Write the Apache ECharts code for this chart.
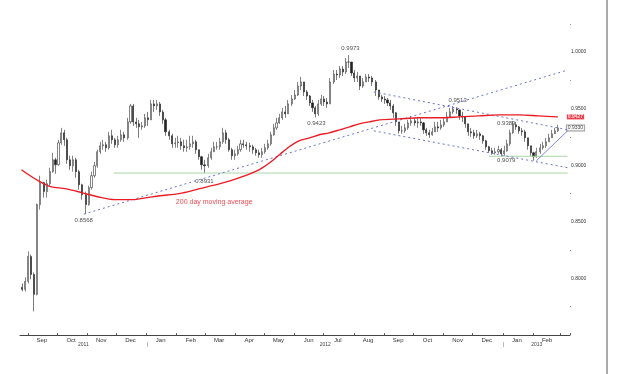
<!DOCTYPE html>
<html><head><meta charset="utf-8">
<script src="https://cdn.jsdelivr.net/npm/echarts/dist/echarts.min.js"></script>
<style>html,body{margin:0;padding:0;background:#fff}#c{width:620px;height:374px}</style>
</head><body><div id="c"></div>
<script>
// ---- axis range & tick labels ----
const axisStart = '2011-08-24', axisEnd = '2013-03-10';
const monthNames = ['Jan','Feb','Mar','Apr','May','Jun','Jul','Aug','Sep','Oct','Nov','Dec'];
const yMin = 0.75, yMax = 1.046, yStep = 0.05;

// ---- USD/CHF candles (sampled), first and last dates ----
const candleStart = '2011-08-26', candleEnd = '2013-02-26';
const firstOpen = 0.7921;
const closes = [
 .7903,.7974,.8194,.8035,.7859,.8652,.8846,.8767,.8837,.8943,
 .9048,.9004,.9198,.9286,.9225,.9048,.8996,.9048,.8943,.8828,
 .8740,.8652,.8802,.8907,.8996,.9119,.9172,.9181,.9154,.9260,
 .9225,.9181,.9225,.9269,.9242,.9383,.9524,.9383,.9366,.9339,
 .9348,.9419,.9401,.9542,.9524,.9542,.9471,.9401,.9295,.9260,
 .9189,.9198,.9207,.9172,.9154,.9163,.9189,.9207,.9137,.9075,
 .9004,.8996,.9066,.9119,.9163,.9163,.9207,.9286,.9225,.9137,
 .9084,.9101,.9137,.9189,.9181,.9172,.9163,.9137,.9110,.9093,
 .9119,.9154,.9189,.9269,.9330,.9374,.9419,.9471,.9454,.9542,
 .9586,.9621,.9700,.9736,.9648,.9612,.9551,.9507,.9454,.9542,
 .9586,.9559,.9542,.9736,.9806,.9797,.9850,.9824,.9912,.9912,
 .9815,.9771,.9789,.9700,.9736,.9780,.9771,.9736,.9665,.9604,
 .9586,.9577,.9551,.9524,.9463,.9383,.9304,.9304,.9330,.9374,
 .9392,.9374,.9383,.9374,.9313,.9286,.9269,.9295,.9339,.9330,
 .9357,.9383,.9427,.9471,.9498,.9489,.9436,.9427,.9366,.9295,
 .9286,.9260,.9278,.9260,.9216,.9163,.9128,.9110,.9119,.9137,
 .9101,.9128,.9189,.9286,.9357,.9339,.9304,.9295,.9242,.9172,
 .9110,.9075,.9119,.9154,.9172,.9207,.9242,.9278,.9304,.9330
];
const highs = [
 .7956,.8009,.8238,.8211,.8053,.8661,.8907,.8855,.8872,.8978,
 .9110,.9066,.9225,.9330,.9313,.9242,.9084,.9084,.9066,.8960,
 .8837,.8767,.8819,.8943,.9031,.9137,.9207,.9225,.9207,.9295,
 .9313,.9242,.9260,.9313,.9295,.9419,.9542,.9542,.9419,.9401,
 .9383,.9454,.9471,.9577,.9577,.9577,.9559,.9489,.9419,.9313,
 .9278,.9242,.9260,.9242,.9225,.9225,.9260,.9260,.9225,.9137,
 .9084,.9048,.9101,.9154,.9207,.9207,.9242,.9330,.9313,.9242,
 .9154,.9137,.9172,.9225,.9225,.9207,.9198,.9181,.9154,.9137,
 .9154,.9189,.9225,.9295,.9366,.9419,.9454,.9507,.9524,.9577,
 .9621,.9665,.9736,.9780,.9736,.9665,.9621,.9577,.9524,.9577,
 .9621,.9612,.9595,.9771,.9841,.9841,.9877,.9877,.9947,.9973,
 .9912,.9841,.9824,.9789,.9771,.9806,.9806,.9789,.9753,.9665,
 .9621,.9612,.9595,.9577,.9542,.9471,.9383,.9348,.9366,.9401,
 .9436,.9419,.9427,.9419,.9383,.9330,.9313,.9330,.9383,.9383,
 .9401,.9419,.9471,.9507,.9524,.9513,.9489,.9471,.9436,.9366,
 .9330,.9313,.9313,.9295,.9269,.9225,.9172,.9154,.9154,.9172,
 .9154,.9172,.9225,.9313,.9389,.9383,.9348,.9330,.9313,.9242,
 .9172,.9119,.9154,.9189,.9207,.9242,.9278,.9313,.9330,.9357
];
const lows = [
 .7885,.7885,.7956,.7991,.7709,.7850,.8608,.8714,.8714,.8819,
 .8934,.8925,.8996,.9181,.9172,.9013,.8960,.8943,.8890,.8784,
 .8696,.8568,.8643,.8784,.8890,.8978,.9101,.9137,.9119,.9137,
 .9189,.9154,.9154,.9207,.9207,.9225,.9366,.9348,.9330,.9242,
 .9313,.9330,.9348,.9401,.9471,.9489,.9436,.9366,.9260,.9225,
 .9154,.9154,.9154,.9137,.9119,.9119,.9137,.9154,.9101,.9048,
 .8960,.8931,.8978,.9048,.9119,.9137,.9137,.9189,.9189,.9119,
 .9048,.9048,.9084,.9119,.9154,.9137,.9119,.9101,.9084,.9066,
 .9066,.9101,.9137,.9172,.9260,.9313,.9366,.9401,.9419,.9454,
 .9524,.9577,.9612,.9665,.9612,.9577,.9524,.9471,.9423,.9436,
 .9524,.9524,.9507,.9542,.9718,.9753,.9771,.9789,.9806,.9859,
 .9789,.9736,.9736,.9665,.9683,.9736,.9736,.9700,.9612,.9577,
 .9559,.9542,.9524,.9489,.9419,.9348,.9278,.9278,.9286,.9313,
 .9348,.9348,.9330,.9348,.9278,.9260,.9242,.9260,.9295,.9295,
 .9313,.9339,.9383,.9419,.9454,.9454,.9401,.9383,.9330,.9260,
 .9251,.9233,.9242,.9225,.9189,.9137,.9110,.9093,.9093,.9101,
 .9079,.9084,.9119,.9172,.9278,.9313,.9278,.9260,.9207,.9137,
 .9084,.9040,.9066,.9101,.9137,.9154,.9207,.9242,.9278,.9295
];

// ---- 200 day moving average ----
const maDates = ['2011-08-25','2011-09-03','2011-09-13','2011-09-24','2011-10-09','2011-10-26','2011-11-11','2011-11-29','2011-12-17','2012-01-01','2012-01-14','2012-02-03','2012-02-24','2012-03-16','2012-04-05','2012-04-25','2012-05-06','2012-05-16','2012-05-26','2012-06-05','2012-06-16','2012-06-26','2012-07-06','2012-07-17','2012-07-27','2012-08-06','2012-08-16','2012-08-27','2012-09-16','2012-10-07','2012-10-27','2012-11-17','2012-12-07','2012-12-28','2013-01-17','2013-02-06','2013-02-26'];
const maValues = [0.8960,0.8907,0.8855,0.8811,0.8793,0.8758,0.8722,0.8696,0.8696,0.8714,0.8731,0.8749,0.8793,0.8837,0.8890,0.8960,0.9022,0.9093,0.9163,0.9216,0.9242,0.9269,0.9286,0.9313,0.9339,0.9366,0.9383,0.9401,0.9410,0.9419,0.9419,0.9427,0.9436,0.9445,0.9445,0.9436,0.9427];

// ---- drawn lines (endpoints in date/value) ----
const trendUp      = [['2011-10-28',0.8568],['2013-03-08',0.9841]];
const channelTop   = [['2012-08-21',0.9648],['2013-03-08',0.9313]];
const channelBottom= [['2012-08-21',0.9304],['2013-03-08',0.8978]];
const shortUp      = [['2013-02-04',0.9040],['2013-03-08',0.9304]];
const level8931    = [['2011-11-28',0.8931],['2013-03-08',0.8931]];
const level9079    = [['2012-12-17',0.9079],['2013-03-08',0.9079]];

// ---- price annotations ----
const annDates  = ['2011-10-28','2012-02-29','2012-06-23','2012-07-28','2012-11-15','2013-01-04','2013-01-04'];
const annValues = [0.8568,0.8931,0.9423,0.9973,0.9513,0.9389,0.9079];
const annPos    = ['bottom','bottom','bottom','top','top','bottom','bottom'];
const annDist   = [3,5,3,4,4,-1,1];
const maText = '200 day moving average';
const maTextAt = ['2012-03-10',0.8678];

// ---- build ----
const DAY = 86400000;
const toMs = s => Date.UTC(+s.slice(0,4), +s.slice(5,7)-1, +s.slice(8,10));
const toStr = ms => new Date(ms).toISOString().slice(0,10);
const categories = [];
for (let t = toMs(axisStart); t <= toMs(axisEnd); t += DAY) categories.push(toStr(t));

const n = closes.length;
const span = (toMs(candleEnd) - toMs(candleStart)) / DAY;
const candleDates = closes.map((_, i) => toStr(toMs(candleStart) + Math.round(i * span / (n - 1)) * DAY));
const candles = closes.map((c, i) => {
  const o = i === 0 ? firstOpen : closes[i-1];
  return [candleDates[i], o, c, Math.min(lows[i], o, c), Math.max(highs[i], o, c)];
});

// year label at the middle of each year's visible span
const yearIdx = {};
categories.forEach((d, i) => { const y = d.slice(0,4); (yearIdx[y] = yearIdx[y] || []).push(d); });
const yearMid = new Set(Object.values(yearIdx).map(a => a[Math.floor(a.length/2)]));

const blue = '#6b74cf';
const lineSeries = (data, color, type, width) => ({
  type: 'line', data, symbol: 'none', silent: true, animation: false,
  lineStyle: { color, type, width }
});
const chart = echarts.init(document.getElementById('c'), null, { renderer: 'canvas' });
chart.setOption({
  animation: false,
  backgroundColor: '#fff',
  textStyle: { fontFamily: 'Liberation Sans, Arial, sans-serif' },
  grid: { left: 20, right: 50, top: 0, bottom: 39, outerBoundsMode: 'none', containLabel: false },
  xAxis: [{
    type: 'category', data: categories, boundaryGap: true,
    axisLine: { lineStyle: { color: '#444', width: 1 } },
    axisTick: { show: true, inside: true, length: 2, interval: (i, v) => v.endsWith('-01'), lineStyle: { color: '#666' } },
    axisLabel: { interval: (i, v) => v.endsWith('-15'), formatter: v => monthNames[+v.slice(5,7)-1], fontSize: 6, color: '#333', margin: 2 },
    splitLine: { show: false }
  }, {
    type: 'category', data: categories, boundaryGap: false, position: 'bottom', offset: 7,
    axisLine: { show: false },
    axisTick: { show: true, length: 5, interval: (i, v) => v.endsWith('-01-01'), lineStyle: { color: '#bbb' } },
    axisLabel: { interval: (i, v) => yearMid.has(v), formatter: v => v.slice(0,4), fontSize: 5, color: '#444', margin: 0 },
    splitLine: { show: false }
  }],
  yAxis: {
    type: 'value', position: 'right', min: yMin, max: yMax, interval: yStep, scale: true,
    axisLine: { show: false }, axisTick: { show: false }, splitLine: { show: false },
    minorTick: { show: true, splitNumber: 2, length: 1, lineStyle: { color: '#999' } },
    axisLabel: { fontSize: 5, color: '#333', margin: 1, showMinLabel: false, showMaxLabel: false,
      formatter: v => (v > 0.79 && v < 1.01) ? v.toFixed(4) : '' }
  },
  series: [
    lineSeries(level8931, '#a9d6a4', 'solid', 1),
    lineSeries(level9079, '#a9d6a4', 'solid', 1),
    lineSeries(trendUp, blue, [2, 3], 1),
    lineSeries(channelTop, blue, [2, 3], 1),
    lineSeries(channelBottom, blue, [2, 3], 1),
    lineSeries(shortUp, '#5a66d8', 'solid', 0.8),
    {
      type: 'candlestick', data: candles, encode: { x: 0, y: [1, 2, 3, 4] },
      barWidth: 1.6, silent: true,
      itemStyle: { color: '#ffffff', color0: '#222', borderColor: '#333', borderColor0: '#222', borderWidth: 0.6 }
    },
    {
      type: 'line', data: maDates.map((d, i) => [d, maValues[i]]), symbol: 'none', smooth: 0.3, silent: true,
      lineStyle: { color: '#ec1c24', width: 1.4 }
    },
    {
      type: 'scatter', symbolSize: 0, silent: true,
      label: { show: true, fontSize: 6, color: '#222', formatter: p => p.value[1].toFixed(4) },
      data: annDates.map((d, i) => ({ value: [d, annValues[i]], label: { position: annPos[i], distance: annDist[i] } }))
    },
    {
      type: 'scatter', symbolSize: 0, silent: true,
      label: { show: true, position: 'inside', fontSize: 7, color: '#ec1c24', formatter: maText },
      data: [maTextAt]
    },
    {
      type: 'scatter', symbolSize: 0, silent: true,
      data: [
        { value: [maDates[maDates.length-1], maValues[maValues.length-1]],
          label: { show: true, position: 'right', distance: 9, fontSize: 5, fontWeight: 'bold', color: '#fff', backgroundColor: '#e8101e', padding: [0, 1], formatter: p => p.value[1].toFixed(4) } },
        { value: [candleDates[n-1], closes[n-1]],
          label: { show: true, position: 'right', distance: 9, fontSize: 5, color: '#111', backgroundColor: '#fff', borderColor: '#888', borderWidth: 1, padding: [0, 1], formatter: p => p.value[1].toFixed(4) } }
      ]
    }
  ],
  graphic: [{ type: 'line', shape: { x1: 607, y1: 0, x2: 607, y2: 374 }, style: { stroke: '#aaa', lineWidth: 2 }, silent: true }]
});
</script>
</body></html>
